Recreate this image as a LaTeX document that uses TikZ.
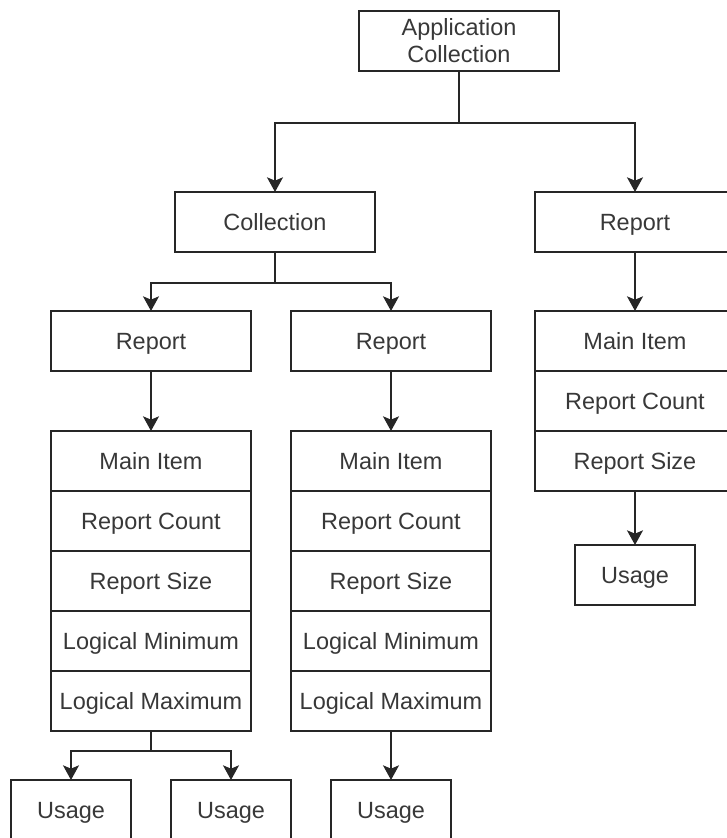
\documentclass[tikz,border=0pt]{standalone}
\usepackage{fontspec}
\setmainfont{Liberation Sans}
\usetikzlibrary{arrows.meta}
\tikzset{
  box/.style={draw=black!85, line width=1.1pt, minimum width=150pt, minimum height=45pt,
    inner sep=0pt, outer sep=0pt, text=black!78, align=center,
    font=\fontsize{17.6}{20.3}\selectfont},
  onebox/.style={box, text height=12.6pt, text depth=0pt},
  usagebox/.style={onebox, minimum width=90pt},
  arr/.style={draw=black!85, line width=1.1pt, -{Stealth[length=11pt,width=12pt,inset=2.5pt]}},
  line/.style={draw=black!85, line width=1.1pt}
}
\begin{document}
\begin{tikzpicture}[x=15pt,y=15pt]
\useasboundingbox (0,0) rectangle (36.3,41.9);
\node (appcol) at (22.95,39.85)[box]{Application\\Collection};
\node (collection) at (13.75,30.8)[onebox]{Collection};
\node (report3) at (31.75,30.8)[onebox]{Report};
\node (report1) at (7.55,24.85)[onebox]{Report};
\node (report2) at (19.55,24.85)[onebox]{Report};
\foreach \n/\t/\y in {main/Main Item/18.85,count/Report Count/15.85,size/Report Size/12.85,min/Logical Minimum/9.85,max/Logical Maximum/6.85}{
\node (\n1) at (7.55,\y)[onebox]{\t};
\node (\n2) at (19.55,\y)[onebox]{\t};
}
\foreach \n/\t/\y in {main/Main Item/24.85,count/Report Count/21.85,size/Report Size/18.85}
\node (\n3) at (31.75,\y)[onebox]{\t};
\node (usage1) at (3.55,1.4)[usagebox]{Usage};
\node (usage2) at (11.55,1.4)[usagebox]{Usage};
\node (usage3) at (19.55,1.4)[usagebox]{Usage};
\node (usage4) at (31.75,13.15)[usagebox]{Usage};
\coordinate (j1) at (22.95,35.75);
\coordinate (j2) at (13.75,27.75);
\coordinate (j3) at (7.55,4.35);
\draw[line] (appcol) -- (j1);
\draw[arr] (j1) -| (collection);
\draw[arr] (j1) -| (report3);
\draw[line] (collection) -- (j2);
\draw[arr] (j2) -| (report1);
\draw[arr] (j2) -| (report2);
\draw[arr] (report1) -- (main1);
\draw[arr] (report2) -- (main2);
\draw[arr] (report3) -- (main3);
\draw[arr] (size3) -- (usage4);
\draw[arr] (max2) -- (usage3);
\draw[line] (max1) -- (j3);
\draw[arr] (j3) -| (usage1);
\draw[arr] (j3) -| (usage2);
\end{tikzpicture}
\end{document}
